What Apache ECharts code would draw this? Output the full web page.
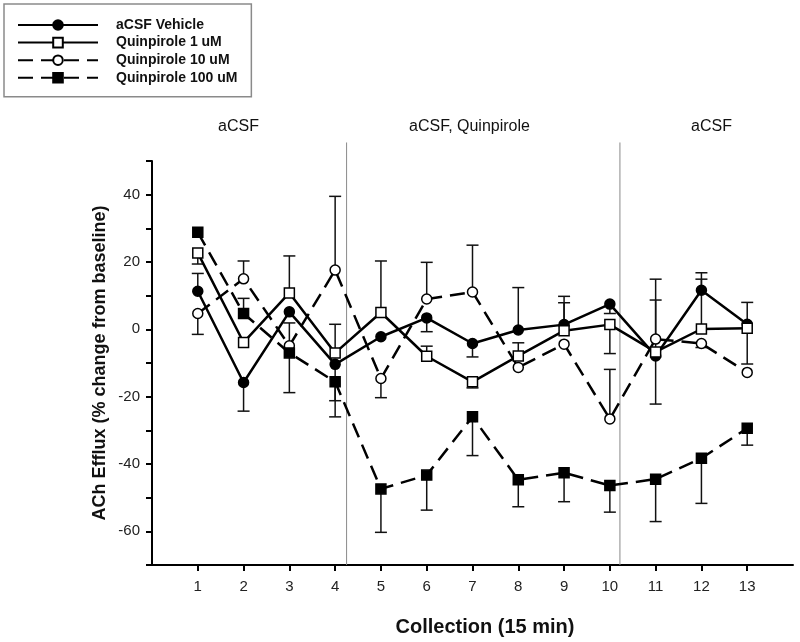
<!DOCTYPE html>
<html><head><meta charset="utf-8">
<script src="https://cdn.jsdelivr.net/npm/echarts@6/dist/echarts.min.js"></script>
<style>html,body{margin:0;padding:0;background:#fff}#c{width:800px;height:642px}</style>
</head><body><div id="c"></div>
<script>
const collections = [1,2,3,4,5,6,7,8,9,10,11,12,13];
const seriesNames = ['aCSF Vehicle','Quinpirole 1 uM','Quinpirole 10 uM','Quinpirole 100 uM'];
const vehicle       = [11.3,-15.8,5.2,-10.4,-2.2,3.4,-4.2,-0.2,1.4,7.5,-7.9,11.6,1.5];
const vehicleErrEnd = [16.6,-24.3,null,-21.2,null,-0.7,-8.2,12.4,9.8,4.7,-22.2,16.8,8.0];
const q1            = [22.7,-3.9,10.8,-7.0,5.0,-8.0,-15.6,-7.9,-0.4,1.4,-6.7,0.1,0.3];
const q1ErrEnd      = [19.4,null,21.8,1.5,20.3,-5.0,-17.4,-4.0,7.9,-7.2,8.7,14.9,-10.3];
const q10           = [4.7,15.0,-4.9,17.6,-14.6,9.0,11.1,-11.3,-4.4,-26.6,-2.9,-4.2,-12.8];
const q10ErrEnd     = [-1.5,20.3,1.9,39.5,-20.3,19.9,25.0,null,null,-11.9,14.9,-5.4,null];
const q100          = [28.8,4.7,-7.0,-15.6,-47.4,-43.3,-26.0,-44.7,-42.6,-46.4,-44.5,-38.3,-29.4];
const q100ErrEnd    = [null,9.2,-18.8,-26.0,-60.3,-53.7,-37.5,-52.7,-51.2,-54.3,-57.1,-51.7,-34.4];
const yTickLabels = [-60,-40,-20,0,20,40];
const phaseBoundaries = [4.25,10.22];
const phaseLabels = ['aCSF','aCSF, Quinpirole','aCSF'];
const yTitle = 'ACh Efflux (% change from baseline)';
const xTitle = 'Collection (15 min)';

const FONT = 'Liberation Sans, Arial, sans-serif';
const chart = echarts.init(document.getElementById('c'), null, {renderer:'canvas'});

const groups = [
  {name: seriesNames[0], vals: vehicle, err: vehicleErrEnd, symbol:'circle', size:10, fill:'#000', dash:'solid'},
  {name: seriesNames[1], vals: q1, err: q1ErrEnd, symbol:'rect', size:10, fill:'#fff', dash:'solid'},
  {name: seriesNames[2], vals: q10, err: q10ErrEnd, symbol:'circle', size:10, fill:'#fff', dash:[15,8]},
  {name: seriesNames[3], vals: q100, err: q100ErrEnd, symbol:'rect', size:10, fill:'#000', dash:[15,8]}
];

const errData = [];
groups.forEach(g => g.err.forEach((e, i) => { if (e !== null) errData.push([collections[i], g.vals[i], e]); }));

function renderErr(params, api) {
  const x = api.value(0), v = api.value(1), e = api.value(2);
  const p0 = api.coord([x, v]), p1 = api.coord([x, e]);
  const hw = 6;
  return {type:'group', children:[
    {type:'line', shape:{x1:p0[0], y1:p0[1], x2:p1[0], y2:p1[1]}, style:{stroke:'#111', lineWidth:1.5}},
    {type:'line', shape:{x1:p1[0]-hw, y1:p1[1], x2:p1[0]+hw, y2:p1[1]}, style:{stroke:'#111', lineWidth:1.5}}
  ]};
}

const series = [];
phaseBoundaries.forEach((b, i) => series.push({
  name: 'boundary' + i, type:'line', data:[[b,-70],[b,55.5]], clip:false, symbol:'none',
  lineStyle:{color:'#8a8a8a', width:1}, silent:true, z:1
}));
series.push({name:'errorBars', type:'custom', data: errData, renderItem: renderErr, encode:{x:0, y:[1,2]}, z:2, silent:true});
groups.forEach(g => series.push({
  name: g.name, type:'line', data: collections.map((c, i) => [c, g.vals[i]]),
  symbol: g.symbol, symbolSize: g.size, showSymbol:true,
  lineStyle:{color:'#000', width:2.5, type: g.dash},
  itemStyle:{color: g.fill, borderColor:'#000', borderWidth:1.5},
  emphasis:{disabled:true}, z:3
}));

chart.setOption({
  animation:false,
  backgroundColor:'#fff',
  grid:{left:152, right:7, top:161, bottom:77},
  xAxis:{type:'value', min:0, max:14, interval:1,
    axisLine:{show:true, onZero:false, lineStyle:{color:'#000', width:2}},
    axisTick:{show:true, length:6, lineStyle:{color:'#000', width:2}, customValues: collections},
    axisLabel:{customValues: collections, margin:14, fontSize:15, color:'#222', fontFamily:FONT},
    splitLine:{show:false}},
  yAxis:{type:'value', min:-70, max:50, interval:10,
    axisLine:{show:true, onZero:false, lineStyle:{color:'#000', width:2}},
    axisTick:{show:true, length:6, lineStyle:{color:'#000', width:2}},
    axisLabel:{customValues: yTickLabels, margin:12, fontSize:15, color:'#222', fontFamily:FONT},
    splitLine:{show:false}},
  legend:{data: seriesNames, orient:'vertical', left:4, top:4, padding:[14,14,12,13],
    itemWidth:80, itemHeight:12, itemGap:3.6, selectedMode:false,
    borderColor:'#8a8a8a', borderWidth:1.5,
    textStyle:{fontSize:14, fontWeight:'bold', fontFamily:FONT, color:'#111', padding:[0,0,0,13]}},
  graphic:[
    {type:'text', left:218, top:119, style:{text:phaseLabels[0], fontSize:16, fontFamily:FONT, fill:'#111'}},
    {type:'text', left:409, top:119, style:{text:phaseLabels[1], fontSize:16, fontFamily:FONT, fill:'#111'}},
    {type:'text', left:691, top:119, style:{text:phaseLabels[2], fontSize:16, fontFamily:FONT, fill:'#111'}},
    {type:'text', x:100, y:363, rotation:Math.PI/2, style:{text:yTitle, fontSize:18, fontWeight:'bold', fontFamily:FONT, fill:'#111', align:'center', verticalAlign:'middle'}},
    {type:'text', x:485, y:627, style:{text:xTitle, fontSize:20, fontWeight:'bold', fontFamily:FONT, fill:'#111', align:'center', verticalAlign:'middle'}}
  ],
  series: series
});
</script></body></html>
